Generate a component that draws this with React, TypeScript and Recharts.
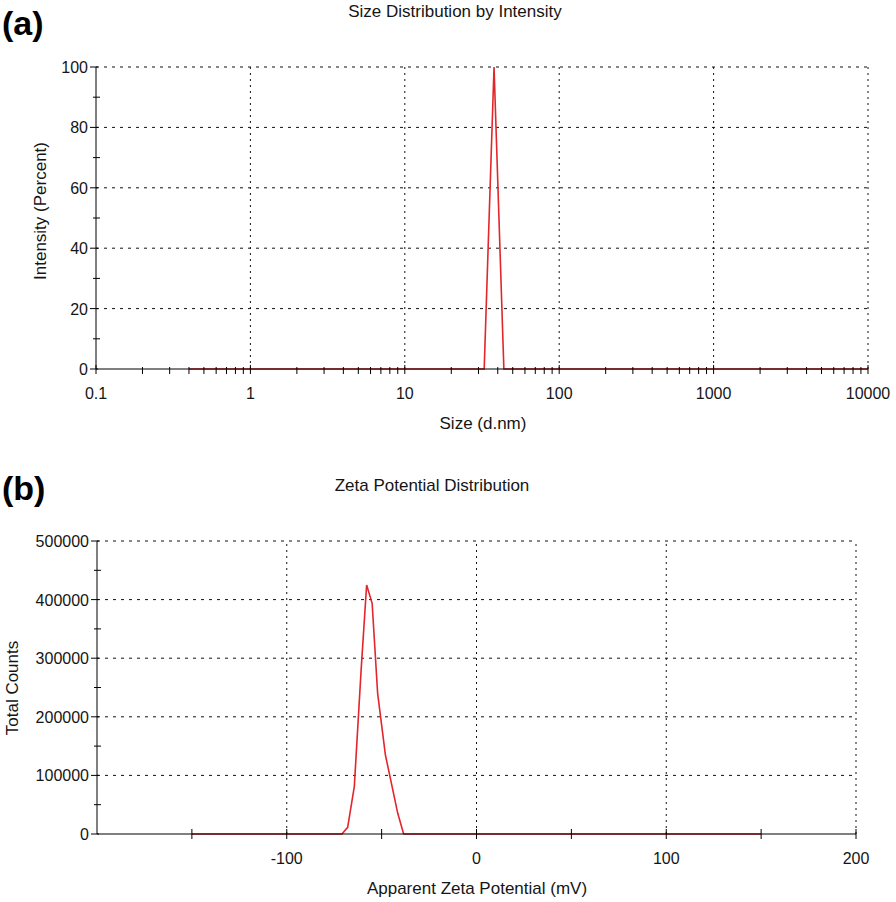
import React from 'react';
import { LineChart, Line, XAxis, YAxis, ReferenceLine } from 'recharts';

// ---- (a) Size distribution by intensity ----
const sizeNm = [0.4, 32.67, 37.84, 43.82, 10000];
const intensityPct = [0, 0, 100, 0, 0];
const sizeMajorTicks = [0.1, 1, 10, 100, 1000, 10000];
const sizeMinorMultipliers = [2, 3, 4, 5, 6, 7, 8, 9];
const sizeGridValues = [1, 10, 100, 1000, 10000];
const intensityTicks = [0, 20, 40, 60, 80, 100];
const intensityMinorTicks = [10, 30, 50, 70, 90];
const intensityGridValues = [20, 40, 60, 80, 100];

// ---- (b) Zeta potential distribution ----
const zetaMv = [-150, -70.9, -67.9, -64.4, -60.8, -57.9, -55.0, -52.1, -48.0, -41.5, -38.4, 150];
const totalCounts = [0, 0, 11400, 80700, 280000, 425000, 393700, 240000, 134800, 35300, 0, 0];
const zetaLabelTicks = [-100, 0, 100, 200];
const zetaAllTicks = [-150, -100, -50, 0, 50, 100, 150, 200];
const zetaGridValues = [-100, 0, 100, 200];
const countTicks = [0, 100000, 200000, 300000, 400000, 500000];
const countMinorTicks = [50000, 150000, 250000, 350000, 450000];
const countGridValues = [100000, 200000, 300000, 400000, 500000];

const FONT = '"Liberation Sans", Arial, sans-serif';
const RED = '#e3262b';
const TEXT = '#151515';

const sizeAllTicks: number[] = [];
sizeMajorTicks.forEach((d, i) => {
  sizeAllTicks.push(d);
  if (i < sizeMajorTicks.length - 1) sizeMinorMultipliers.forEach((m) => sizeAllTicks.push(d * m));
});
const intensityAllTicks = [...intensityTicks, ...intensityMinorTicks].sort((a, b) => a - b);
const countAllTicks = [...countTicks, ...countMinorTicks].sort((a, b) => a - b);

const sizeData = sizeNm.map((x, i) => ({ x, y: intensityPct[i] }));
const zetaData = zetaMv.map((x, i) => ({ x, y: totalCounts[i] }));

const XTick = (props: any, majors: number[], labels: number[], majorUp: number, minorUp: number) => {
  const { x, y, payload } = props;
  const v = payload.value;
  const isMajor = majors.some((m) => Math.abs(m - v) < 1e-9);
  const hasLabel = labels.some((m) => Math.abs(m - v) < 1e-9);
  return (
    <g>
      <line x1={x} x2={x} y1={y - (isMajor ? majorUp : minorUp)} y2={y + 5} stroke="#000" strokeWidth={1} />
      {hasLabel && (
        <text x={x} y={y + 30} textAnchor="middle" fontSize={16} fontFamily={FONT} fill={TEXT}>
          {String(v)}
        </text>
      )}
    </g>
  );
};

const YTick = (props: any, majors: number[]) => {
  const { x, y, payload } = props;
  const v = payload.value;
  const isMajor = majors.includes(v);
  return (
    <g>
      <line x1={x - (isMajor ? 6 : 3)} x2={x + (isMajor ? 2 : 4)} y1={y} y2={y} stroke="#000" strokeWidth={1} />
      {isMajor && (
        <text x={x - 8} y={y + 6} textAnchor="end" fontSize={16} fontFamily={FONT} fill={TEXT}>
          {String(v)}
        </text>
      )}
    </g>
  );
};

const gridH = { stroke: '#111', strokeDasharray: '3 5', strokeWidth: 1 };
const gridV = { stroke: '#111', strokeDasharray: '2 4', strokeWidth: 1 };

export default function App() {
  return (
    <div style={{ position: 'absolute', left: 0, top: 0, width: 896, height: 902, background: '#fff', fontFamily: FONT }}>
      <div style={{ position: 'absolute', left: 0, top: 0 }}>
        <LineChart width={896} height={440} data={sizeData} margin={{ top: 67, right: 28, left: 36, bottom: 41 }}>
          <XAxis
            dataKey="x"
            type="number"
            scale="log"
            domain={[0.1, 10000]}
            ticks={sizeAllTicks}
            interval={0}
            height={30}
            tickSize={0}
            tickMargin={0}
            axisLine={{ stroke: '#000' }}
            tickLine={false}
            tick={(p: any) => XTick(p, sizeMajorTicks, sizeMajorTicks, 4, 2)}
          />
          <YAxis
            type="number"
            domain={[0, 100]}
            ticks={intensityAllTicks}
            interval={0}
            width={60}
            tickSize={0}
            tickMargin={0}
            axisLine={{ stroke: '#000' }}
            tickLine={false}
            tick={(p: any) => YTick(p, intensityTicks)}
          />
          {intensityGridValues.map((v) => (
            <ReferenceLine key={'h' + v} y={v} {...gridH} />
          ))}
          {sizeGridValues.map((v) => (
            <ReferenceLine key={'v' + v} x={v} {...gridV} />
          ))}
          <Line type="linear" dataKey="y" stroke={RED} strokeWidth={1.6} dot={false} isAnimationActive={false} />
        </LineChart>
      </div>
      <div style={{ position: 'absolute', left: 0, top: 450 }}>
        <LineChart width={896} height={452} data={zetaData} margin={{ top: 91, right: 40, left: 37, bottom: 38 }}>
          <XAxis
            dataKey="x"
            type="number"
            domain={[-200, 200]}
            ticks={zetaAllTicks}
            interval={0}
            height={30}
            tickSize={0}
            tickMargin={0}
            axisLine={{ stroke: '#000' }}
            tickLine={false}
            tick={(p: any) => XTick(p, zetaAllTicks, zetaLabelTicks, 5, 5)}
          />
          <YAxis
            type="number"
            domain={[0, 500000]}
            ticks={countAllTicks}
            interval={0}
            width={60}
            tickSize={0}
            tickMargin={0}
            axisLine={{ stroke: '#000' }}
            tickLine={false}
            tick={(p: any) => YTick(p, countTicks)}
          />
          {countGridValues.map((v) => (
            <ReferenceLine key={'h' + v} y={v} {...gridH} />
          ))}
          {zetaGridValues.map((v) => (
            <ReferenceLine key={'v' + v} x={v} {...gridV} />
          ))}
          <Line type="linear" dataKey="y" stroke={RED} strokeWidth={1.6} dot={false} isAnimationActive={false} />
        </LineChart>
      </div>
      <svg width={896} height={902} style={{ position: 'absolute', left: 0, top: 0, pointerEvents: 'none' }}>
        <text x={2} y={35} fontSize={34} fontWeight="bold" fontFamily={FONT} fill="#000">(a)</text>
        <text x={455} y={17} fontSize={17} textAnchor="middle" fontFamily={FONT} fill={TEXT}>Size Distribution by Intensity</text>
        <text x={483} y={429} fontSize={17} textAnchor="middle" fontFamily={FONT} fill={TEXT}>Size (d.nm)</text>
        <text transform="translate(46,211) rotate(-90)" fontSize={17} textAnchor="middle" fontFamily={FONT} fill={TEXT}>Intensity (Percent)</text>

        <text x={2} y={500} fontSize={34} fontWeight="bold" fontFamily={FONT} fill="#000">(b)</text>
        <text x={432} y={491} fontSize={17} textAnchor="middle" fontFamily={FONT} fill={TEXT}>Zeta Potential Distribution</text>
        <text x={477} y={894} fontSize={17} textAnchor="middle" fontFamily={FONT} fill={TEXT}>Apparent Zeta Potential (mV)</text>
        <text transform="translate(18,688) rotate(-90)" fontSize={17} textAnchor="middle" fontFamily={FONT} fill={TEXT}>Total Counts</text>
      </svg>
    </div>
  );
}
